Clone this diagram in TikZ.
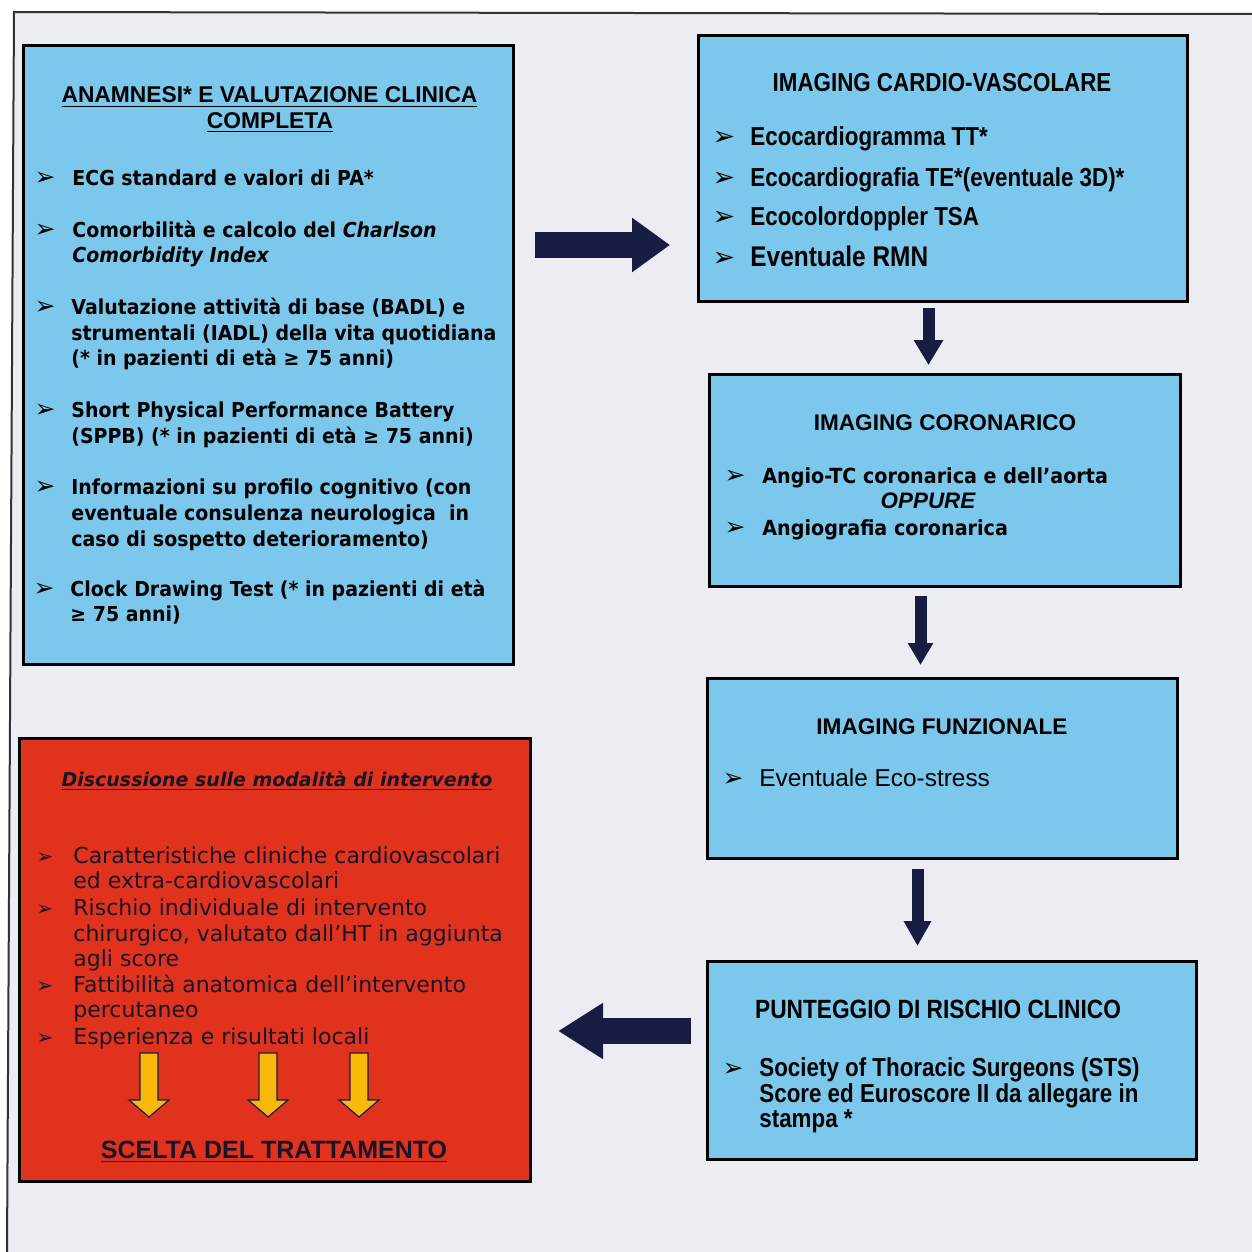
\documentclass[tikz,border=0pt]{standalone}
\usepackage{fontspec}
\usetikzlibrary{arrows.meta,calc}
\newfontfamily\dvs{DejaVu Sans}
\newfontfamily\dvsn[FakeStretch=0.92]{DejaVu Sans}
\newfontfamily\lib{Liberation Sans}
\newfontfamily\libn[FakeStretch=0.86]{Liberation Sans}
\definecolor{boxblue}{RGB}{124,200,236}
\definecolor{boxred}{RGB}{225,50,30}
\definecolor{pagebg}{RGB}{235,237,243}
\definecolor{navy}{RGB}{24,28,66}
\definecolor{arrowyellow}{RGB}{250,185,10}
\definecolor{inkdark}{RGB}{22,22,40}
\begin{document}
\begin{tikzpicture}[x=0.5pt,y=-0.5pt,
  bluebox/.style={draw=black, line width=1.5pt, fill=boxblue, inner sep=0pt, anchor=north west},
  redbox/.style={draw=black, line width=1.5pt, fill=boxred, inner sep=0pt, anchor=north west},
  txt/.style={inner sep=0pt, anchor=base west},
  ctxt/.style={inner sep=0pt, anchor=base},
  fA/.style={font=\dvsn\bfseries\fontsize{10.3}{12}\selectfont},
  fAtitle/.style={font=\lib\bfseries\fontsize{11.4}{13}\selectfont},
  fN/.style={font=\libn\bfseries\fontsize{13}{15}\selectfont},
  fT/.style={font=\lib\bfseries\fontsize{11.3}{13}\selectfont},
  fC/.style={font=\dvsn\bfseries\fontsize{10.4}{12}\selectfont},
  fD/.style={font=\lib\fontsize{12.2}{14}\selectfont},
  fF/.style={font=\dvs\fontsize{11}{13}\selectfont, text=inkdark},
  bul/.style={inner sep=0pt, anchor=base, font=\dvs\fontsize{12.5}{14}\selectfont},
  bulB/.style={inner sep=0pt, anchor=base, font=\dvs\fontsize{13.5}{15}\selectfont},
  bulF/.style={inner sep=0pt, anchor=base, font=\dvs\fontsize{10}{12}\selectfont, text=inkdark},
  bigarrow/.style 2 args={draw=navy, line width=13pt, -{Triangle[width=#1, length=#2]}},
  downarrow/.style 2 args={draw=navy, line width=6pt, -{Triangle[width=#1, length=#2]}},
  yarrow/.style={draw=navy, line width=0.6pt, fill=arrowyellow, line join=miter},
]
\useasboundingbox (0,0) rectangle (1252,1252);
\fill[white] (0,0) rectangle (1252,1252);
\fill[pagebg] (14,12) -- (1252,14) -- (1252,1252) -- (7,1252) -- cycle;
\draw[line width=1pt, black!80] (7,1252) -- (14,12) -- (1252,14);

% ---------- boxes ----------
\node[bluebox, minimum width=245pt, minimum height=309.5pt] (A) at (22,44) {};
\node[bluebox, minimum width=244.5pt, minimum height=133pt] (B) at (697,34) {};
\node[bluebox, minimum width=235.5pt, minimum height=106pt] (C) at (708,373) {};
\node[bluebox, minimum width=235pt, minimum height=90pt] (D) at (706,677) {};
\node[bluebox, minimum width=244.5pt, minimum height=99pt] (E) at (706,960) {};
\node[redbox, minimum width=255.5pt, minimum height=221.5pt] (F) at (18,737) {};

% ---------- box A ----------
\node[ctxt, fAtitle] (At1) at (269.5,103) {\underline{ANAMNESI* E VALUTAZIONE CLINICA}};
\node[ctxt, fAtitle] (At2) at (270,128) {\underline{COMPLETA}};
\node[bul] (Ab1) at (45,185) {➢};
\node[txt, fA] (A1) at (72,185) {ECG standard e valori di PA*};
\node[bul] (Ab2) at (45,237) {➢};
\node[txt, fA] (A2) at (72,237) {Comorbilità e calcolo del \textit{Charlson}};
\node[txt, fA] (A2b) at (72,262) {\textit{Comorbidity Index}};
\node[bul] (Ab3) at (45,314) {➢};
\node[txt, fA] (A3) at (71,314) {Valutazione attività di base (BADL) e};
\node[txt, fA] (A3b) at (71,340) {strumentali (IADL) della vita quotidiana};
\node[txt, fA] (A3c) at (71,365) {(* in pazienti di età ≥ 75 anni)};
\node[bul] (Ab4) at (45,417) {➢};
\node[txt, fA] (A4) at (71,417) {Short Physical Performance Battery};
\node[txt, fA] (A4b) at (71,443) {(SPPB) (* in pazienti di età ≥ 75 anni)};
\node[bul] (Ab5) at (45,494) {➢};
\node[txt, fA] (A5) at (71,494) {Informazioni su profilo cognitivo (con};
\node[txt, fA] (A5b) at (71,520) {eventuale consulenza neurologica \ in};
\node[txt, fA] (A5c) at (71,546) {caso di sospetto deterioramento)};
\node[bul] (Ab6) at (44,596) {➢};
\node[txt, fA] (A6) at (70,596) {Clock Drawing Test (* in pazienti di età};
\node[txt, fA] (A6b) at (70,621) {≥ 75 anni)};

% ---------- box B ----------
\node[ctxt, fN] (Bt) at (942,91) {IMAGING CARDIO-VASCOLARE};
\node[bulB] (Bb1) at (724,146) {➢};
\node[txt, fN] (B1) at (750,146) {Ecocardiogramma TT*};
\node[bulB] (Bb2) at (724,186) {➢};
\node[txt, fN] (B2) at (750,186) {Ecocardiografia TE*(eventuale 3D)*};
\node[bulB] (Bb3) at (724,225) {➢};
\node[txt, fN] (B3) at (750,225) {Ecocolordoppler TSA};
\node[bulB] (Bb4) at (724,266) {➢};
\node[txt, font=\libn\bfseries\fontsize{14.2}{16}\selectfont] (B4) at (750,266) {Eventuale RMN};

% ---------- box C ----------
\node[ctxt, fT] (Ct) at (945,430) {IMAGING CORONARICO};
\node[bul] (Cb1) at (735,483) {➢};
\node[txt, fC] (C1) at (762,483) {Angio-TC coronarica e dell’aorta};
\node[ctxt, font=\lib\bfseries\itshape\fontsize{11.2}{13}\selectfont] (Cor) at (928,508) {OPPURE};
\node[bul] (Cb2) at (735,535) {➢};
\node[txt, fC] (C2) at (762,535) {Angiografia coronarica};

% ---------- box D ----------
\node[ctxt, fT] (Dt) at (942,734) {IMAGING FUNZIONALE};
\node[bul] (Db1) at (733,786) {➢};
\node[txt, fD] (D1) at (759,786) {Eventuale Eco-stress};

% ---------- box E ----------
\node[ctxt, font=\libn\bfseries\fontsize{13.2}{15}\selectfont] (Et) at (938,1018) {PUNTEGGIO DI RISCHIO CLINICO};
\node[bul] (Eb1) at (733,1076) {➢};
\node[txt, fN] (E1) at (759,1076) {Society of Thoracic Surgeons (STS)};
\node[txt, fN] (E2) at (759,1102) {Score ed Euroscore II da allegare in};
\node[txt, fN] (E3) at (759,1127) {stampa *};

% ---------- box F ----------
\node[ctxt, font=\dvs\bfseries\itshape\fontsize{9.5}{11}\selectfont, text=inkdark] (Ft) at (277,786) {\underline{Discussione sulle modalità di intervento}};
\node[bulF] (Fb1) at (45,863) {➢};
\node[txt, fF] (F1) at (73,863) {Caratteristiche cliniche cardiovascolari};
\node[txt, fF] (F1b) at (73,888) {ed extra-cardiovascolari};
\node[bulF] (Fb2) at (45,915) {➢};
\node[txt, fF] (F2) at (73,915) {Rischio individuale di intervento};
\node[txt, fF] (F2b) at (73,941) {chirurgico, valutato dall’HT in aggiunta};
\node[txt, fF] (F2c) at (73,966) {agli score};
\node[bulF] (Fb3) at (45,992) {➢};
\node[txt, fF] (F3) at (73,992) {Fattibilità anatomica dell’intervento};
\node[txt, fF] (F3b) at (73,1017) {percutaneo};
\node[bulF] (Fb4) at (45,1044) {➢};
\node[txt, fF] (F4) at (73,1044) {Esperienza e risultati locali};
\node[ctxt, font=\lib\bfseries\fontsize{12.5}{14}\selectfont, text=inkdark] (Fs) at (274,1158) {\underline{SCELTA DEL TRATTAMENTO}};

% yellow arrows
\coordinate (Y1) at (149,1053);
\coordinate (Y2) at (268,1053);
\coordinate (Y3) at (359,1053);
\foreach \c in {Y1,Y2,Y3}
  \draw[yarrow] (\c) ++(-9,0) -- ++(18,0) -- ++(0,47) -- ++(11,0) -- ++(-20,17) -- ++(-20,-17) -- ++(11,0) -- cycle;

% ---------- connectors ----------
\coordinate (rA) at ([yshift=-100.5pt]A.north east);
\draw[bigarrow={26pt}{19pt}, shorten <=10pt, shorten >=13.5pt] (rA) -- (rA -| B.west);
\coordinate (dB) at ([xshift=-7.25pt]B.south);
\draw[downarrow={14pt}{12.5pt}, shorten <=2.5pt, shorten >=4pt] (dB) -- (dB |- C.north);
\coordinate (dC) at ([xshift=-12.25pt]C.south);
\draw[downarrow={12pt}{11pt}, shorten <=4pt, shorten >=6pt] (dC) -- (dC |- D.north);
\coordinate (dD) at ([xshift=-12.5pt]D.south);
\draw[downarrow={13pt}{12.5pt}, shorten <=4.5pt, shorten >=7pt] (dD) -- (dD |- E.north);
\coordinate (lE) at ([yshift=-35.5pt]E.north west);
\draw[bigarrow={26.5pt}{22.5pt}, shorten <=7.5pt, shorten >=13pt] (lE) -- (lE -| F.east);
\end{tikzpicture}
\end{document}
